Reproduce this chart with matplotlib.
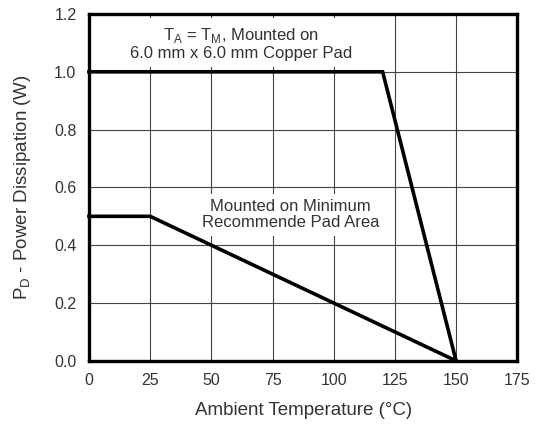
import numpy as np
import matplotlib.pyplot as plt

plt.rcParams['font.family'] = ['Liberation Sans', 'DejaVu Sans']
plt.rcParams['mathtext.fontset'] = 'custom'
plt.rcParams['mathtext.rm'] = 'Liberation Sans'

# derating curves
copper_x = [0, 120, 150]
copper_y = [1.0, 1.0, 0.0]
minpad_x = [0, 25, 150]
minpad_y = [0.5, 0.5, 0.0]

xticks = [0, 25, 50, 75, 100, 125, 150, 175]
yticks = [0.0, 0.2, 0.4, 0.6, 0.8, 1.0, 1.2]

txtc = "#333333"

fig = plt.figure(figsize=(5.36, 4.24), dpi=100, facecolor="white")
ax = fig.add_axes([0.166, 0.149, 0.799, 0.818])

ax.plot(copper_x, copper_y, color="black", lw=2.6, solid_joinstyle="miter", zorder=3, clip_on=False)
ax.plot(minpad_x, minpad_y, color="black", lw=2.6, solid_joinstyle="miter", zorder=3, clip_on=False)

ax.set_xlim(0, 175)
ax.set_ylim(0, 1.2)
ax.set_xticks(xticks)
ax.set_yticks(yticks)
ax.set_xticklabels([str(t) for t in xticks])
ax.set_yticklabels(["%.1f" % t for t in yticks])
ax.grid(True, color="#444444", lw=0.8)
ax.tick_params(length=0, pad=9, labelsize=11.5, colors=txtc)
for s in ax.spines.values():
    s.set_linewidth(2.4)
    s.set_color("black")
    s.set_zorder(4)

ax.set_xlabel("Ambient Temperature (°C)", fontsize=13.5, color=txtc, labelpad=10)
ax.set_ylabel(r"P$_\mathregular{D}$ - Power Dissipation (W)", fontsize=13.5, color=txtc, labelpad=15)

ax.text(62, 1.098, "T$_\\mathregular{A}$ = T$_\\mathregular{M}$, Mounted on\n6.0 mm x 6.0 mm Copper Pad",
        ha="center", va="center", fontsize=12, color=txtc, linespacing=1.1, zorder=2,
        bbox=dict(facecolor="white", edgecolor="none", pad=4))
ax.text(82.5, 0.505, "Mounted on Minimum\nRecommende Pad Area",
        ha="center", va="center", fontsize=12, color=txtc, linespacing=1.1, zorder=2,
        bbox=dict(facecolor="white", edgecolor="none", pad=4))

fig.savefig("out.png", dpi=100)
